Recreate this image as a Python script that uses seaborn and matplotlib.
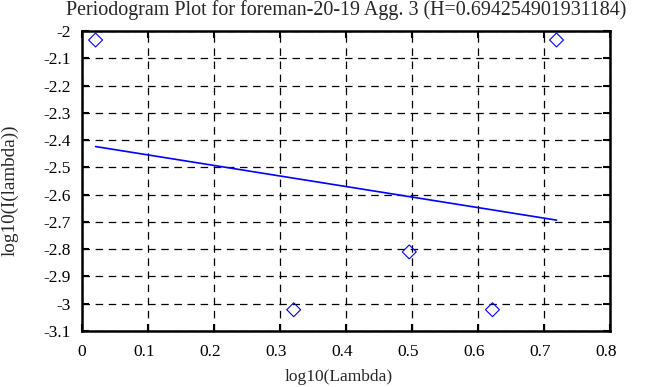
import matplotlib
matplotlib.use("Agg")
import matplotlib.pyplot as plt
import matplotlib.transforms as mtransforms
import numpy as np
import pandas as pd
import seaborn as sns

# periodogram points (log10 of frequency vs log10 of periodogram)
log_lambda = [0.021, 0.321, 0.496, 0.622, 0.719]
log_i = [-2.033, -3.022, -2.810, -3.022, -2.033]
x_ticks = [0, 0.1, 0.2, 0.3, 0.4, 0.5, 0.6, 0.7, 0.8]
y_ticks = [-2, -2.1, -2.2, -2.3, -2.4, -2.5, -2.6, -2.7, -2.8, -2.9, -3, -3.1]
title = "Periodogram Plot for foreman-20-19 Agg. 3 (H=0.694254901931184)"

df = pd.DataFrame({"x": log_lambda, "y": log_i})

sns.set_style("ticks")
plt.rcParams["font.family"] = ["Liberation Serif", "DejaVu Serif"]
plt.rcParams["axes.unicode_minus"] = False

fig = plt.figure(figsize=(6.68, 3.87), dpi=100)
ax = fig.add_axes([0.1223, 0.1447, 0.7909, 0.7752])

ax.grid(True, color="black", linestyle=(0, (6, 4.5)), linewidth=0.9, zorder=0)

# least-squares fit line over the data range
sns.regplot(data=df, x="x", y="y", ax=ax, scatter=False, ci=None,
            truncate=True, color="blue", line_kws={"linewidth": 1.2, "zorder": 3})
sns.scatterplot(data=df, x="x", y="y", ax=ax, marker="D", s=50,
                facecolor="none", edgecolor="blue", linewidth=0.8, zorder=4)

ax.set_xlim(0, 0.8)
ax.set_ylim(-3.1, -2)
ax.set_xticks(x_ticks)
ax.set_xticklabels(["%g" % v for v in x_ticks])
ax.set_yticks(y_ticks)
ax.set_yticklabels(["%g" % v for v in y_ticks])
ax.tick_params(direction="in", length=5, width=1.5, top=True, right=True,
               labelsize=12.5, colors="black")
ax.tick_params(axis="x", pad=9)
ax.tick_params(axis="y", pad=8)
# gnuplot centres the longer x labels a little to the left
shift = mtransforms.ScaledTranslation(-4 / 100, 0, fig.dpi_scale_trans)
for lab in ax.get_xticklabels()[1:]:
    lab.set_transform(lab.get_transform() + shift)

for sp in ax.spines.values():
    sp.set_linewidth(1.8)
    sp.set_color("black")
    sp.set_visible(True)

ax.set_xlabel("log10(Lambda)", fontsize=12.5)
ax.xaxis.set_label_coords(0.4865, -0.152)
ax.xaxis.label.set_va("center")
ax.set_ylabel("log10(I(lambda))", fontsize=13.8)
ax.yaxis.set_label_coords(-0.1357, 0.47)
ax.yaxis.label.set_va("center")
ax.set_title(title, fontsize=14.4, y=1.07, pad=0, va="center")

fig.savefig("out.png", dpi=100)
